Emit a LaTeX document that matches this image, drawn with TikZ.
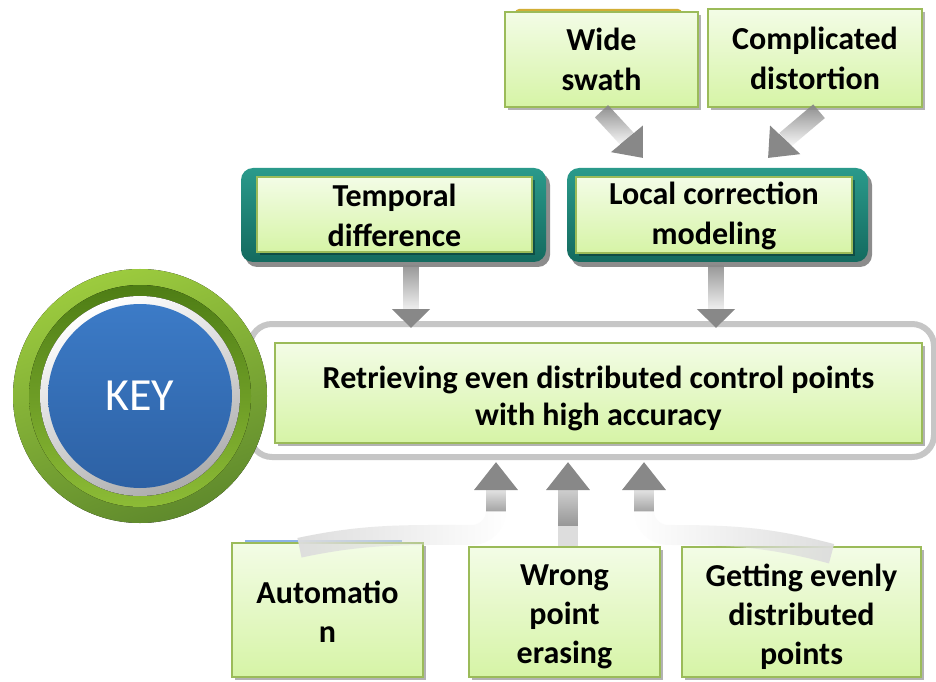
\documentclass[tikz,border=0pt]{standalone}
\usepackage{fontspec}
\setmainfont{Carlito}
\usetikzlibrary{arrows.meta,shadows,fadings,calc}
\definecolor{boxtop}{HTML}{F3FCE6}
\definecolor{boxbot}{HTML}{D6F4A6}
\definecolor{boxedge}{HTML}{9BBB59}
\definecolor{tealtop}{HTML}{2A9A8B}
\definecolor{tealbot}{HTML}{146A5F}
\definecolor{arrowgray}{HTML}{888888}
\definecolor{tailgray}{HTML}{DDDDDD}
\definecolor{ringlight}{HTML}{9CCB3E}
\definecolor{ringdark}{HTML}{4E7D15}
\definecolor{keyblue}{HTML}{3C7BC7}
\definecolor{keybluedark}{HTML}{2D61A4}
\definecolor{goldpeek}{HTML}{D2AE35}
\definecolor{bluepeek}{HTML}{8DB3E6}
\tikzset{
  greenbox/.style={draw=boxedge, line width=2.5pt, top color=boxtop, bottom color=boxbot,
    inner sep=0pt, align=center, text=black,
    drop shadow={shadow xshift=3pt, shadow yshift=-3pt, opacity=0.3, fill=black}},
  boxtext/.style={align=center, text=black, inner sep=0pt},
  topfont/.style={font=\bfseries\fontsize{32}{40}\selectfont},
  mainfont/.style={font=\bfseries\fontsize{32}{37}\selectfont},
  botfont/.style={font=\bfseries\fontsize{32}{39}\selectfont},
  tealbox/.style={rounded corners=12pt, top color=tealtop, bottom color=tealbot, draw=none,
    inner sep=0pt,
    drop shadow={shadow xshift=4pt, shadow yshift=-5pt, opacity=0.45, fill=black}},
  shaft/.style={line width=#1, draw=arrowgray},
  tailband/.style={line width=20pt, draw=tailgray},
}
\begin{document}
\begin{tikzpicture}[x=1pt,y=1pt]
\useasboundingbox (0,0) rectangle (936,681);
\fill[white] (0,0) rectangle (936,681);

% outer frame
\node[draw=gray!45, line width=6pt, rounded corners=22pt, fill=white,
      minimum width=684pt, minimum height=133pt, inner sep=0pt] (frame) at (592,290.5) {};

% central box
\node[greenbox, minimum width=647pt, minimum height=100pt] (main) at (598.5,288) {};
\node[boxtext, mainfont] (maintext) at ($(main.center)+(0,-5)$)
  {Retrieving even distributed control points\\with high accuracy};

% KEY button
\fill[top color=ringlight, bottom color=ringdark!90, shading angle=20] (140,285) circle (127);
\fill[top color=ringdark, bottom color=ringlight!80!ringdark] (140,285) circle (111);
\fill[top color=white, bottom color=gray!65, shading angle=25] (140,285) circle (100);
\node[circle, minimum size=184pt, inner sep=0pt, top color=keyblue, bottom color=keybluedark,
      text=white, font=\fontsize{46}{50}\selectfont] (key) at (140,285) {KEY};

% top row: teal boxes with green inner boxes
\node[tealbox, minimum width=305pt, minimum height=94pt] (tempouter) at (393.5,466) {};
\node[greenbox, minimum width=275pt, minimum height=75pt, drop shadow={opacity=0}] (temp) at (394.5,466.5) {};
\node[boxtext, topfont] (temptext) at ($(temp.center)+(0,-1)$) {Temporal\\difference};
\node[tealbox, minimum width=301pt, minimum height=94pt] (localouter) at (717.5,466) {};
\node[greenbox, minimum width=276pt, minimum height=76pt, drop shadow={opacity=0}] (local) at (714,466) {};
\node[boxtext, topfont] (localtext) at ($(local.center)+(0,-1)$) {Local correction\\modeling};

% very top boxes
\fill[goldpeek, rounded corners=4pt] (515,655) rectangle (682,672);
\node[greenbox, minimum width=193pt, minimum height=95pt] (wide) at (601.5,621.5) {};
\node[boxtext, topfont] (widetext) at (wide.center) {Wide\\swath};
\node[greenbox, minimum width=214pt, minimum height=98pt] (cplx) at (815,623) {};
\node[boxtext, topfont] (cplxtext) at (cplx.center) {Complicated\\distortion};

% bottom boxes
\fill[bluepeek] (245,137) rectangle (402,141);
\node[greenbox, minimum width=191pt, minimum height=134pt] (auto) at (327.5,71) {};
\node[boxtext, botfont] (autotext) at ($(auto.center)+(0,-2)$) {Automatio\\n};
\node[greenbox, minimum width=191pt, minimum height=130pt] (wrong) at (564.5,69) {};
\node[boxtext, botfont] (wrongtext) at ($(wrong.center)+(0,-5)$) {Wrong\\point\\erasing};
\node[greenbox, minimum width=239pt, minimum height=130pt] (even) at (801.5,69) {};
\node[boxtext, botfont] (eventext) at ($(even.center)+(0,-5)$) {Getting evenly\\distributed\\points};

% arrow end points
\coordinate (tipA) at (411,353);
\coordinate (tipB) at (716,353);
\coordinate (tipW) at (643,523);
\coordinate (tipC) at (768,523);
\coordinate (tipL) at (496,219);
\coordinate (tipM) at (568,219);
\coordinate (tipR) at (644,219);
\coordinate (bendL) at (496,170);
\coordinate (bendR) at (644,170);
\coordinate (baseA) at ($(tipA)+(0,19)$);
\coordinate (baseB) at ($(tipB)+(0,19)$);
\coordinate (baseW) at ($(tipW)!25pt!(wide.south)$);
\coordinate (baseC) at ($(tipC)!25pt!(cplx.south)$);
\coordinate (baseL) at ($(tipL)+(0,-28)$);
\coordinate (baseM) at ($(tipM)+(0,-28)$);
\coordinate (baseR) at ($(tipR)+(0,-28)$);

% arrows from the top boxes
\draw[shaft=18pt, path fading=south] ($(wide.south)+(0,-3)$) -- (baseW);
\draw[shaft=18pt, -{Triangle[width=40pt,length=25pt]}] (baseW) -- (tipW);
\draw[shaft=18pt, path fading=south] ($(cplx.south)+(4,-3)$) -- (baseC);
\draw[shaft=18pt, -{Triangle[width=40pt,length=25pt]}] (baseC) -- (tipC);
\draw[shaft=16pt, path fading=south] ($(tempouter.south)+(17.5,-3)$) -- (baseA);
\draw[shaft=16pt, -{Triangle[width=37pt,length=19pt]}] (baseA) -- (tipA);
\draw[shaft=16pt, path fading=south] ($(localouter.south)+(-1.5,-3)$) -- (baseB);
\draw[shaft=16pt, -{Triangle[width=37pt,length=19pt]}] (baseB) -- (tipB);

% arrows from the bottom boxes
\draw[tailband, path fading=east] ($(auto.north)+(-28,-6)$) to[out=12,in=180] (472,146) to[out=0,in=-90] (bendL);
\draw[tailband, path fading=west] ($(even.north)+(30,-8)$) to[out=165,in=0] (668,146) to[out=180,in=-90] (bendR);
\draw[tailband] (bendL) -- ($(bendL)+(0,-1)$);
\draw[tailband] (bendR) -- ($(bendR)+(0,-1)$);
\draw[shaft=20pt, draw=tailgray] ($(wrong.north)+(3.5,0)$) -- (baseM);
\draw[shaft=20pt, path fading=north] (bendL) -- (baseL);
\draw[shaft=20pt, path fading=north] ($(wrong.north)+(3.5,20)$) -- (baseM);
\draw[shaft=20pt, path fading=north] (bendR) -- (baseR);
\draw[shaft=20pt, -{Triangle[width=42pt,length=28pt]}] (baseL) -- (tipL);
\draw[shaft=20pt, -{Triangle[width=42pt,length=28pt]}] (baseM) -- (tipM);
\draw[shaft=20pt, -{Triangle[width=42pt,length=28pt]}] (baseR) -- (tipR);
\end{tikzpicture}
\end{document}
